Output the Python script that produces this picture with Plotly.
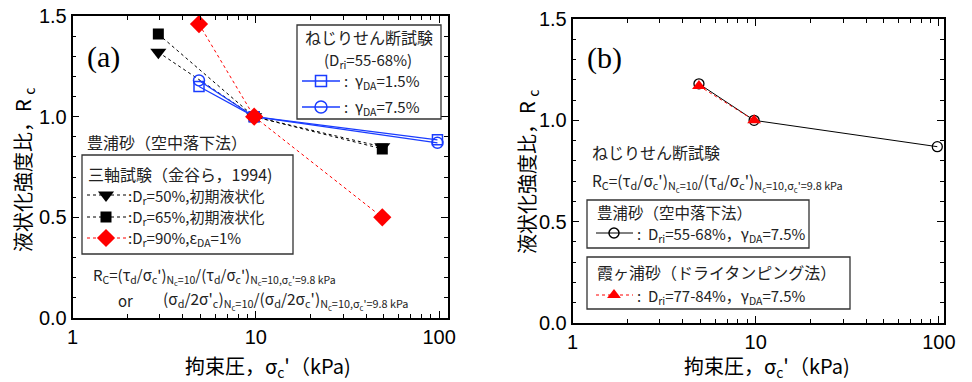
import plotly.graph_objects as go

# ---------------- data ----------------
# panel (a): triaxial tests (Kanatani et al., 1994)
tri_dr50_x = [2.94, 9.8, 49]
tri_dr50_y = [1.32, 1.00, 0.85]
tri_dr65_x = [2.94, 9.8, 49]
tri_dr65_y = [1.41, 1.00, 0.84]
tri_dr90_x = [4.9, 9.8, 49]
tri_dr90_y = [1.46, 1.00, 0.50]
# panel (a): torsional shear tests
tor_g15_x = [4.9, 9.8, 98]
tor_g15_y = [1.15, 1.00, 0.885]
tor_g75_x = [4.9, 9.8, 98]
tor_g75_y = [1.18, 1.00, 0.87]
# panel (b)
toyoura_x = [4.9, 9.8, 98]
toyoura_y = [1.18, 1.00, 0.87]
kasumi_x = [4.9, 9.8]
kasumi_y = [1.17, 1.00]

x_ticks = [1, 10, 100]
x_ticklabels = ["1", "10", "100"]
x_minor = [2, 3, 4, 5, 6, 7, 8, 9, 20, 30, 40, 50, 60, 70, 80, 90]
y_ticks = [0.0, 0.5, 1.0, 1.5]
y_ticklabels = ["0.0", "0.5", "1.0", "1.5"]

W, H = 972, 382
JP = "Noto Sans CJK JP"
TXT = "#222222"
BLUE = "#1a3cff"
RED = "#ff0000"

def px(x):
    return x / W

def py(y):
    return 1 - y / H

fig = go.Figure()

# ---- panel (a) data traces ----
fig.add_trace(go.Scatter(x=tri_dr50_x, y=tri_dr50_y, mode="lines+markers",
                         line=dict(color="black", width=1, dash="dot"),
                         marker=dict(symbol="triangle-down", size=14, color="black"),
                         xaxis="x", yaxis="y", showlegend=False))
fig.add_trace(go.Scatter(x=tri_dr65_x, y=tri_dr65_y, mode="lines+markers",
                         line=dict(color="black", width=1, dash="dot"),
                         marker=dict(symbol="square", size=11, color="black"),
                         xaxis="x", yaxis="y", showlegend=False))
fig.add_trace(go.Scatter(x=tor_g15_x, y=tor_g15_y, mode="lines+markers",
                         line=dict(color=BLUE, width=1.3),
                         marker=dict(symbol="square-open", size=10, color=BLUE, line=dict(width=1.5)),
                         xaxis="x", yaxis="y", showlegend=False))
fig.add_trace(go.Scatter(x=tor_g75_x, y=tor_g75_y, mode="lines+markers",
                         line=dict(color=BLUE, width=1.3),
                         marker=dict(symbol="circle-open", size=11, color=BLUE, line=dict(width=1.5)),
                         xaxis="x", yaxis="y", showlegend=False))
fig.add_trace(go.Scatter(x=tri_dr90_x, y=tri_dr90_y, mode="lines+markers",
                         line=dict(color=RED, width=1, dash="dot"),
                         marker=dict(symbol="diamond", size=14, color=RED),
                         xaxis="x", yaxis="y", showlegend=False))

# ---- panel (b) data traces ----
fig.add_trace(go.Scatter(x=toyoura_x, y=toyoura_y, mode="lines+markers",
                         line=dict(color="black", width=1),
                         marker=dict(symbol="circle-open", size=10, color="black", line=dict(width=1.3)),
                         xaxis="x2", yaxis="y2", showlegend=False))
fig.add_trace(go.Scatter(x=kasumi_x, y=kasumi_y, mode="lines+markers",
                         line=dict(color=RED, width=1, dash="dot"),
                         marker=dict(symbol="triangle-up", size=12, color=RED),
                         xaxis="x2", yaxis="y2", showlegend=False))

# ---- legend samples on a pixel overlay axis ----
def sample(x0, x1, y, xm, color, dash, symbol, size, filled=True, lw=1):
    fig.add_trace(go.Scatter(x=[x0, x1], y=[y, y], mode="lines",
                             line=dict(color=color, width=lw, dash=dash),
                             xaxis="x3", yaxis="y3", showlegend=False, hoverinfo="skip"))
    mk = dict(symbol=symbol, size=size, color=color)
    if not filled:
        mk["line"] = dict(width=1.5, color=color)
    fig.add_trace(go.Scatter(x=[xm], y=[y], mode="markers", marker=mk,
                             xaxis="x3", yaxis="y3", showlegend=False, hoverinfo="skip"))

# panel (a) torsional legend
sample(302, 340, 81, 321, BLUE, "solid", "square-open", 11, False, 1.3)
sample(302, 340, 107, 321, BLUE, "solid", "circle-open", 12, False, 1.3)
# panel (a) triaxial legend
sample(87, 127, 195, 106, "black", "dot", "triangle-down", 14)
sample(87, 127, 217, 106, "black", "dot", "square", 11)
sample(87, 127, 238, 106, RED, "dot", "diamond", 14)
# panel (b) legends
sample(596, 633, 233, 614, "black", "solid", "circle-open", 10, False, 1)
sample(596, 633, 295, 614, RED, "dot", "triangle-up", 12)

# ---------------- axes ----------------
def xaxis(domain, anchor, xmax):
    return dict(type="log", range=[0, xmax], domain=domain, anchor=anchor,
                tickvals=x_ticks, ticktext=x_ticklabels,
                ticks="inside", ticklen=7, tickwidth=1.3, tickcolor="black",
                showline=True, linecolor="black", linewidth=1.6, mirror="ticks",
                showgrid=False, zeroline=False, automargin=False,
                tickfont=dict(family="Liberation Sans", size=20, color="black"),
                minor=dict(tickvals=x_minor, ticks="inside", ticklen=4, tickwidth=1,
                           tickcolor="black", showgrid=False))

def yaxis(domain, anchor):
    return dict(range=[0, 1.5], domain=domain, anchor=anchor,
                tickvals=y_ticks, ticktext=y_ticklabels,
                ticks="inside", ticklen=7, tickwidth=1.3, tickcolor="black",
                showline=True, linecolor="black", linewidth=1.6, mirror="ticks",
                showgrid=False, zeroline=False, automargin=False,
                tickfont=dict(family="Liberation Sans", size=20, color="black"),
                minor=dict(dtick=0.1, ticks="inside", ticklen=4, tickwidth=1,
                           tickcolor="black", showgrid=False))

fig.update_layout(
    width=W, height=H,
    margin=dict(l=0, r=0, t=0, b=0, autoexpand=False),
    paper_bgcolor="white", plot_bgcolor="rgba(0,0,0,0)",
    xaxis=xaxis([px(72.5), px(447.5)], "y", 2.046),
    yaxis=yaxis([py(318), py(16)], "x"),
    xaxis2=xaxis([px(572.5), px(943.5)], "y2", 2.025),
    yaxis2=yaxis([py(323), py(19)], "x2"),
    xaxis3=dict(domain=[0, 1], range=[0, W], visible=False, anchor="y3", fixedrange=True),
    yaxis3=dict(domain=[0, 1], range=[H, 0], visible=False, anchor="x3", fixedrange=True),
    showlegend=False,
)

shapes = []
annotations = []

def box(x0, y0, x1, y1):
    shapes.append(dict(type="rect", xref="paper", yref="paper",
                       x0=px(x0), x1=px(x1), y0=py(y1), y1=py(y0),
                       line=dict(color="#333333", width=1.3), fillcolor="rgba(0,0,0,0)"))

def text(x, y, s, size=16, anchor="left", family=JP, color=TXT, angle=0):
    annotations.append(dict(xref="paper", yref="paper", x=px(x), y=py(y), text=s,
                            showarrow=False, xanchor=anchor, yanchor="middle",
                            textangle=angle, borderpad=0,
                            font=dict(family=family, size=size, color=color)))

XT = "拘束圧，σ<sub>c</sub>'（kPa)"
YT = "液状化強度比，R <sub>c</sub>"
FORM1 = ("R<sub>C</sub>=(τ<sub>d</sub>/σ<sub>c</sub>')<sub>N<sub>c</sub>=10</sub>"
         "/(τ<sub>d</sub>/σ<sub>c</sub>')<sub>N<sub>c</sub>=10,σ<sub>c</sub>'=9.8 kPa</sub>")
FORM2 = ("(σ<sub>d</sub>/2σ'<sub>c</sub>)<sub>N<sub>c</sub>=10</sub>"
         "/(σ<sub>d</sub>/2σ<sub>c</sub>')<sub>N<sub>c</sub>=10,σ<sub>c</sub>'=9.8 kPa</sub>")

# axis titles
text(268, 366, XT, size=20, anchor="center", color="black")
text(767, 366, XT, size=20, anchor="center", color="black")
text(23, 170, YT, size=20, anchor="center", color="black", angle=-90)
text(528, 172, YT, size=20, anchor="center", color="black", angle=-90)

# panel (a)
text(86, 57, "(a)", size=30, family="Liberation Serif", color="black")
box(297, 25, 441, 119)
text(369, 37, "ねじりせん断試験", size=16, anchor="center")
text(368, 60, "(D<sub>ri</sub>=55-68%)", size=15, anchor="center")
text(343, 82, ":  γ<sub>DA</sub>=1.5%", size=15)
text(343, 108, ":  γ<sub>DA</sub>=7.5%", size=15)
text(86, 142, "豊浦砂（空中落下法）", size=16)
box(82, 155, 293, 254)
text(87, 174, "三軸試験（金谷ら，1994)", size=16)
text(127, 196, ":D<sub>r</sub>=50%,初期液状化", size=15)
text(127, 217, ":D<sub>r</sub>=65%,初期液状化", size=15)
text(127, 238, ":D<sub>r</sub>=90%,ε<sub>DA</sub>=1%", size=15)
text(92, 276, FORM1, size=15)
text(117, 300, "or", size=15)
text(162, 300, FORM2, size=15.5)

# panel (b)
text(586, 58, "(b)", size=30, family="Liberation Serif", color="black")
text(591, 152, "ねじりせん断試験", size=16)
text(591, 182, FORM1, size=15.5)
box(587, 200, 809, 248)
text(596, 212, "豊浦砂（空中落下法）", size=15.5)
text(636, 234, ":  D<sub>ri</sub>=55-68%，γ<sub>DA</sub>=7.5%", size=15)
box(587, 257, 850, 309)
text(596, 272, "霞ヶ浦砂（ドライタンピング法）", size=16)
text(636, 296, ":  D<sub>ri</sub>=77-84%，γ<sub>DA</sub>=7.5%", size=15)

fig.update_layout(shapes=shapes, annotations=annotations)

fig.write_html("out.html", config={"displayModeBar": False},
               post_script="document.body.style.margin='0px';document.body.style.padding='0px';")
